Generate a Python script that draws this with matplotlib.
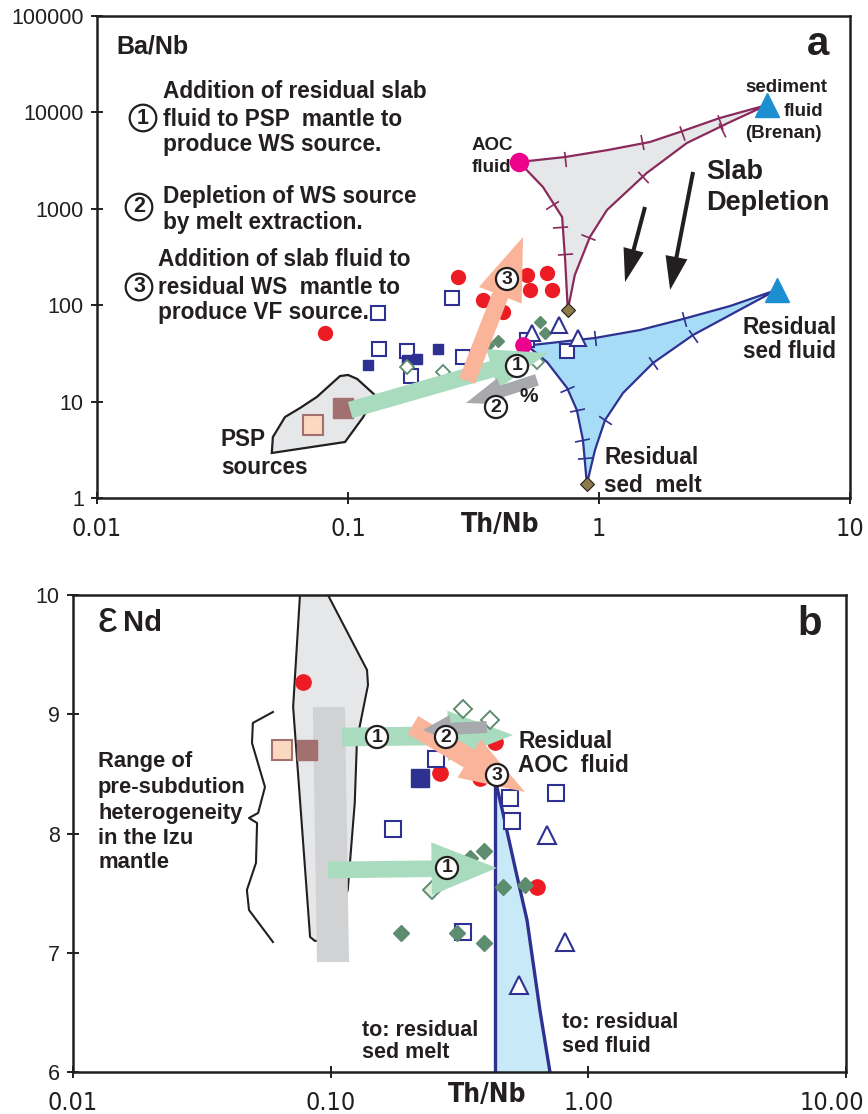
import numpy as np
import matplotlib
matplotlib.use('Agg')
import matplotlib.pyplot as plt
import matplotlib.transforms as mtrans
from matplotlib.patches import Polygon, FancyArrowPatch
from matplotlib.ticker import FixedLocator, FixedFormatter, NullLocator
from matplotlib import font_manager as fm

# ====================== DATA : panel a (Ba/Nb vs Th/Nb) ======================
a_red_x = [0.081, 0.274, 0.345, 0.415, 0.516, 0.531, 0.621, 0.650]
a_red_y = [51.5, 196, 113, 85, 206, 144, 216, 144]
a_opensq_x = [0.259, 0.132, 0.133, 0.172, 0.178, 0.287, 0.516, 0.747]
a_opensq_y = [119, 83, 35.1, 33.5, 18.4, 29.0, 43.6, 33.5]
a_navysq_x = [0.120, 0.172, 0.188, 0.229]
a_navysq_y = [24.0, 27.0, 27.7, 35.1]
a_dia_x = [0.397, 0.582, 0.610, 0.361]
a_dia_y = [42.5, 67.0, 51.5, 38.7]
a_opendia_x = [0.172, 0.239, 0.566]
a_opendia_y = [22.9, 20.3, 25.7]
a_tri_x = [0.541, 0.694, 0.824]
a_tri_y = [51.5, 62.3, 45.7]
a_psp_light = (0.0727, 5.72)
a_psp_dark = (0.0955, 8.58)
a_sed_fluid = (4.67, 11930)
a_res_sed_fluid = (5.1, 144)
a_aoc_fluid = (0.480, 3057)
a_res_aoc = (0.498, 38.7)
a_sed_diam_x = [0.751, 0.895]
a_sed_diam_y = [89.2, 1.40]

# mixing field AOC fluid - sediment fluid (grey, purple outline)
g_top_x = [0.480, 0.733, 1.086, 1.596, 2.10, 3.03, 4.67]
g_top_y = [3057, 3446, 4074, 4932, 6266, 8750, 11930]
g_right_x = [4.67, 3.33, 2.24, 1.55, 1.076, 0.920, 0.801, 0.751]
g_right_y = [11930, 7950, 4817, 2352, 972, 510, 206, 89.2]
g_left_x = [0.751, 0.733, 0.713, 0.598, 0.480]
g_left_y = [89.2, 294, 822, 1683, 3057]
g_tick_x = [0.733, 1.484, 2.14, 3.03, 3.09, 1.497, 0.904, 0.650, 0.700, 0.733]
g_tick_y = [3288, 4932, 6112, 7950, 6568, 2138, 510, 1095, 648, 340]

# residual slab field (blue)
r_top_x = [0.498, 0.964, 1.457, 2.16, 3.33, 5.1]
r_top_y = [37.7, 45.7, 55.3, 71.9, 98.1, 144]
r_right_x = [5.1, 2.37, 1.64, 1.247, 1.057, 0.964, 0.895]
r_right_y = [144, 49.1, 25.1, 12.3, 6.44, 3.15, 1.40]
r_left_x = [0.895, 0.863, 0.816, 0.747, 0.621, 0.531, 0.498]
r_left_y = [1.40, 4.0, 8.18, 13.8, 25.7, 36.0, 37.7]
r_tick_x = [0.964, 2.18, 2.37, 1.64, 1.057, 0.747, 0.816, 0.855, 0.879]
r_tick_y = [45.7, 71.9, 47.9, 25.1, 6.44, 13.5, 8.18, 4.0, 2.60]

# PSP source field
psp_x = [0.0497, 0.0502, 0.0561, 0.0644, 0.0752, 0.0929, 0.100, 0.1087, 0.128, 0.115, 0.0973]
psp_y = [2.93, 4.29, 6.92, 8.58, 11.2, 18.4, 18.9, 17.2, 11.7, 6.92, 3.81]

# arrows panel a: (x0, y0, x1, y1)
a_arrow1 = (0.102, 8.18, 0.627, 31.9)
a_arrow2 = (0.566, 16.8, 0.295, 9.67)
a_arrow3 = (0.298, 16.4, 0.498, 510)
a_slab1 = (1.525, 1044, 1.27, 174)
a_slab2 = (2.37, 2410, 1.92, 144)

# ====================== DATA : panel b (eNd vs Th/Nb) ======================
b_red_x = [0.0781, 0.2655, 0.434, 0.379, 0.631]
b_red_y = [9.270, 8.507, 8.767, 8.465, 7.551]
b_opensq_x = [0.257, 0.1746, 0.497, 0.505, 0.748, 0.326]
b_opensq_y = [8.625, 8.038, 8.298, 8.105, 8.340, 7.174]
b_navysq_x = [0.222]
b_navysq_y = [8.465]
b_dia_x = [0.394, 0.348, 0.467, 0.568, 0.1875, 0.309, 0.394]
b_dia_y = [7.853, 7.795, 7.551, 7.568, 7.166, 7.166, 7.082]
b_opendia_x = [0.326, 0.415]
b_opendia_y = [9.044, 8.952]
b_lightdia_x = [0.247]
b_lightdia_y = [7.526]
b_tri_x = [0.690, 0.811, 0.538]
b_tri_y = [7.987, 7.090, 6.730]
b_psp_light = (0.0647, 8.70)
b_psp_dark = (0.0809, 8.70)

b_field_x = [0.0760, 0.0976, 0.1384, 0.1396, 0.1265, 0.124, 0.1165, 0.0994, 0.0869, 0.0832, 0.0715]
b_field_y = [10.0, 10.0, 9.371, 9.245, 8.784, 8.256, 7.526, 7.107, 7.099, 7.132, 9.061]
b_rect_x = [0.0853, 0.1136, 0.1178, 0.0885]
b_rect_y = [9.061, 9.061, 6.922, 6.922]
brace_x = [0.0597, 0.0499, 0.0495, 0.0556, 0.0523, 0.0482, 0.0518, 0.0513, 0.0473, 0.0482, 0.0597]
brace_y = [9.019, 8.927, 8.759, 8.390, 8.172, 8.130, 8.088, 7.753, 7.526, 7.358, 7.090]
bb_left_x = [0.434, 0.434]
bb_left_y = [8.390, 6.0]
bb_right_x = [0.4416, 0.4663, 0.519, 0.578, 0.6486, 0.7096]
bb_right_y = [8.390, 8.172, 7.719, 7.275, 6.520, 6.0]

b_arrow1u = (0.1107, 8.809, 0.510, 8.826)
b_arrow1l = (0.0976, 7.694, 0.4416, 7.711)
b_arrow3 = (0.2084, 8.910, 0.568, 8.348)
b_arrow2 = (0.404, 8.893, 0.228, 8.868)

a_xticks = [0.01, 0.1, 1, 10]
a_xlabels = ['0.01', '0.1', '1', '10']
a_yticks = [1, 10, 100, 1000, 10000, 100000]
a_ylabels = ['1', '10', '100', '1000', '10000', '100000']
b_xticks = [0.01, 0.1, 1, 10]
b_xlabels = ['0.01', '0.10', '1.00', '10.00']
b_yticks = [6, 7, 8, 9, 10]
b_ylabels = ['6', '7', '8', '9', '10']

# ====================== STYLE ======================
names = {f.name for f in fm.fontManager.ttflist}
MAIN = 'Liberation Sans' if 'Liberation Sans' in names else 'DejaVu Sans'
plt.rcParams['font.family'] = [MAIN, 'DejaVu Sans']

# look for a condensed / narrow sans face (regular and bold)
narrow_reg, narrow_bold = None, None
for f in fm.fontManager.ttflist:
    fn = f.fname.lower()
    if ('narrow' in fn or 'condensed' in fn) and 'sans' in fn and 'mono' not in fn \
            and 'italic' not in fn and 'oblique' not in fn:
        if 'bold' in fn or f.weight in ('bold', 700):
            if narrow_bold is None or 'liberation' in fn:
                narrow_bold = f.fname
        else:
            if narrow_reg is None or 'liberation' in fn:
                narrow_reg = f.fname

if narrow_reg:
    FP_TICK = fm.FontProperties(fname=narrow_reg, size=18)
else:
    FP_TICK = fm.FontProperties(family=MAIN, size=15.5, stretch='condensed')
if narrow_bold:
    FP_LAB = fm.FontProperties(fname=narrow_bold, size=19)
else:
    FP_LAB = fm.FontProperties(family=MAIN, size=17, weight='bold')

K = '#231f20'
RED = '#ed1c24'
NAVY = '#2e3192'
GREEN = '#5e8c6e'
MAG = '#ec008c'
SKY = '#1b8fd2'
BROWN = '#8c7a48'
PURP = '#8a2a5c'
GFILL = '#e6e7e8'
BFILL_A = '#a6dcf5'
BFILL_B = '#c8eaf8'
GARROW = '#a9dbbf'
PARROW = '#f9b49a'
GRARROW = '#a7a9ac'
PSPL = '#fbd9c0'
PSPD = '#a37070'

fig = plt.figure(figsize=(8.68, 11.14), dpi=100)
W, H = 868.0, 1114.0
ax1 = fig.add_axes([97 / W, 1 - 498 / H, (850 - 97) / W, (498 - 16) / H])
ax2 = fig.add_axes([73 / W, 1 - 1072 / H, (846 - 73) / W, (1072 - 595) / H])


def style_axes(ax, xt, xl, yt, yl, logy):
    ax.set_xscale('log')
    if logy:
        ax.set_yscale('log')
    ax.xaxis.set_major_locator(FixedLocator(xt))
    ax.xaxis.set_major_formatter(FixedFormatter(xl))
    ax.yaxis.set_major_locator(FixedLocator(yt))
    ax.yaxis.set_major_formatter(FixedFormatter(yl))
    ax.xaxis.set_minor_locator(NullLocator())
    ax.yaxis.set_minor_locator(NullLocator())
    for s in ax.spines.values():
        s.set_color(K)
        s.set_linewidth(1.8)
    ax.tick_params(which='major', direction='inout', length=9, width=1.4, color=K)
    ax.tick_params(axis='x', pad=9)
    ax.tick_params(axis='y', pad=5)
    for t in ax.get_xticklabels():
        t.set_fontproperties(FP_TICK)
        t.set_color(K)
    for t in ax.get_yticklabels():
        t.set_fontfamily(MAIN)
        t.set_fontsize(15.5)
        t.set_color(K)


style_axes(ax1, a_xticks, a_xlabels, a_yticks, a_ylabels, True)
ax1.set_xlim(0.01, 10)
ax1.set_ylim(1, 100000)
style_axes(ax2, b_xticks, b_xlabels, b_yticks, b_ylabels, False)
ax2.set_xlim(0.01, 10)
ax2.set_ylim(6, 10)
# keep the last panel-b x label inside the figure
shift = mtrans.ScaledTranslation(-14 / 100.0, 0, fig.dpi_scale_trans)
for tk in ax2.xaxis.get_major_ticks()[-1:]:
    tk.label1.set_transform(tk.label1.get_transform() + shift)


def arrow(ax, spec, color, tw, hw, hl, z):
    x0, y0, x1, y1 = spec
    p = FancyArrowPatch((x0, y0), (x1, y1),
                        arrowstyle=f'simple,head_length={hl},head_width={hw},tail_width={tw}',
                        mutation_scale=1, color=color, lw=0, shrinkA=0, shrinkB=0, zorder=z)
    ax.add_patch(p)


def circ(ax, x, y, s, fs=14, fc='white', z=8):
    ax.text(x, y, s, transform=ax.transAxes, ha='center', va='center', fontsize=fs,
            fontweight='bold', color=K, zorder=z,
            bbox=dict(boxstyle='circle,pad=0.13', fc=fc, ec=K, lw=1.6))


def txt(ax, x, y, s, fs=16.3, ha='left', weight='bold', **kw):
    ax.text(x, y, s, transform=ax.transAxes, ha=ha, va='center', fontsize=fs,
            fontweight=weight, color=K, **kw)


def curve_ticks(ax, cx, cy, tx, ty, color, ms=11, mew=1.2):
    P = ax.transData.transform(np.column_stack([cx, cy]))
    T = ax.transData.transform(np.column_stack([tx, ty]))
    for px, py in T:
        best, ang = 1e18, 0.0
        q = np.array([px, py])
        for i in range(len(P) - 1):
            a, b = P[i], P[i + 1]
            v = b - a
            L2 = v @ v
            if L2 == 0:
                continue
            t = np.clip(((q - a) @ v) / L2, 0, 1)
            d = np.hypot(*(a + t * v - q))
            if d < best:
                best, ang = d, np.degrees(np.arctan2(v[1], v[0]))
        inv = ax.transData.inverted().transform((px, py))
        ax.plot([inv[0]], [inv[1]], ls='none', marker=(2, 0, ang), ms=ms,
                mec=color, mew=mew, zorder=3)


# ====================== PANEL a ======================
ax = ax1
gx = g_top_x + g_right_x[1:] + g_left_x[1:-1]
gy = g_top_y + g_right_y[1:] + g_left_y[1:-1]
ax.add_patch(Polygon(np.column_stack([gx, gy]), closed=True, fc=GFILL, ec=PURP, lw=1.6, zorder=1))
curve_ticks(ax, gx + [gx[0]], gy + [gy[0]], g_tick_x, g_tick_y, PURP)

rx = r_top_x + r_right_x[1:] + r_left_x[1:-1]
ry = r_top_y + r_right_y[1:] + r_left_y[1:-1]
ax.add_patch(Polygon(np.column_stack([rx, ry]), closed=True, fc=BFILL_A, ec=NAVY, lw=1.6, zorder=1))
curve_ticks(ax, rx + [rx[0]], ry + [ry[0]], r_tick_x, r_tick_y, NAVY)

ax.add_patch(Polygon(np.column_stack([psp_x, psp_y]), closed=True, fc=GFILL, ec=K, lw=1.6, zorder=1))

ax.plot(a_red_x, a_red_y, 'o', ms=10, mfc=RED, mec=RED, zorder=4)
ax.plot(a_opensq_x, a_opensq_y, 's', ms=10.5, mfc='white', mec=NAVY, mew=1.5, zorder=4)
ax.plot(a_navysq_x, a_navysq_y, 's', ms=7, mfc=NAVY, mec=NAVY, zorder=4)
ax.plot(a_dia_x, a_dia_y, 'D', ms=6, mfc=GREEN, mec=GREEN, zorder=4)
ax.plot(a_opendia_x, a_opendia_y, 'D', ms=7, mfc='white', mec=GREEN, mew=1.3, zorder=4)
ax.plot(a_tri_x, a_tri_y, '^', ms=12, mfc='white', mec=NAVY, mew=1.5, zorder=4)
ax.plot(*a_psp_light, 's', ms=14, mfc=PSPL, mec=PSPD, mew=1.5, zorder=4)
ax.plot(*a_psp_dark, 's', ms=15, mfc=PSPD, mec=PSPD, zorder=4)
ax.plot(*a_sed_fluid, '^', ms=17, mfc=SKY, mec=SKY, zorder=4)
ax.plot(*a_res_sed_fluid, '^', ms=17, mfc=SKY, mec=SKY, zorder=4)
ax.plot(*a_aoc_fluid, 'o', ms=13, mfc=MAG, mec=MAG, zorder=4)
ax.plot(*a_res_aoc, 'o', ms=11, mfc=MAG, mec=MAG, zorder=5)
ax.plot(a_sed_diam_x, a_sed_diam_y, 'D', ms=7.5, mfc=BROWN, mec=K, mew=0.8, zorder=5)

arrow(ax, a_arrow1, GARROW, 12, 30, 42, 6)
arrow(ax, a_arrow2, GRARROW, 8.6, 20, 27, 6.5)
arrow(ax, a_arrow3, PARROW, 12, 33, 45, 7)
arrow(ax, a_slab1, K, 2.9, 15, 24, 6)
arrow(ax, a_slab2, K, 2.9, 16, 24, 6)

X = lambda px: (px - 97) / 753.0
Y = lambda py: (498 - py) / 482.0
txt(ax, X(116), Y(46), 'Ba/Nb', fs=18)
txt(ax, X(818), Y(44), 'a', fs=29, ha='center')
for s, py in zip(['Addition of residual slab', 'fluid to PSP  mantle to', 'produce WS source.'], [92, 119, 144]):
    txt(ax, X(163), Y(py), s)
for s, py in zip(['Depletion of WS source', 'by melt extraction.'], [197, 223]):
    txt(ax, X(163), Y(py), s)
for s, py in zip(['Addition of slab fluid to', 'residual WS  mantle to', 'produce VF source.'], [260, 287, 312]):
    txt(ax, X(158), Y(py), s)
circ(ax, X(143), Y(118), '1', fs=15.5, fc='none')
circ(ax, X(139), Y(207), '2', fs=15.5, fc='none')
circ(ax, X(139), Y(287), '3', fs=15.5, fc='none')
txt(ax, X(472), Y(146), 'AOC', fs=13.5)
txt(ax, X(472), Y(168), 'fluid', fs=13.5)
txt(ax, X(745), Y(87), 'sediment', fs=13.5)
txt(ax, X(784), Y(111), 'fluid', fs=13.5)
txt(ax, X(745), Y(133), '(Brenan)', fs=13.5)
txt(ax, X(706), Y(172), 'Slab', fs=19.5)
txt(ax, X(706), Y(203), 'Depletion', fs=19.5)
txt(ax, X(743), Y(328), 'Residual', fs=16.3)
txt(ax, X(743), Y(351), 'sed fluid', fs=16.3)
txt(ax, X(604), Y(458), 'Residual', fs=16.3)
txt(ax, X(604), Y(485), 'sed  melt', fs=16.3)
txt(ax, X(221), Y(440), 'PSP', fs=16.3)
txt(ax, X(221), Y(467), 'sources', fs=16.3)
circ(ax, X(517), Y(366), '1')
circ(ax, X(496), Y(407), '2')
circ(ax, X(507), Y(279), '3')
txt(ax, X(519), Y(396), '%', fs=15, zorder=9)
ax.text(X(500), Y(525), 'Th/Nb', transform=ax.transAxes, ha='center', va='center',
        fontproperties=FP_LAB, color=K)

# ====================== PANEL b ======================
ax = ax2
ax.add_patch(Polygon(np.column_stack([b_field_x, b_field_y]), closed=True, fc=GFILL, ec=K, lw=1.5, zorder=1))
ax.add_patch(Polygon(np.column_stack([b_rect_x, b_rect_y]), closed=True, fc='#d1d2d4', ec='none', zorder=1.5))
ax.plot(brace_x, brace_y, color=K, lw=1.5, zorder=2)
bfx = bb_left_x[::-1] + bb_right_x
bfy = bb_left_y[::-1] + bb_right_y
ax.add_patch(Polygon(np.column_stack([bfx, bfy]), closed=True, fc=BFILL_B, ec='none', zorder=1))
ax.plot(bb_left_x, bb_left_y, color=NAVY, lw=2.4, zorder=2)
ax.plot(bb_right_x, bb_right_y, color=NAVY, lw=2.4, zorder=2)

ax.plot(*b_psp_light, 's', ms=14, mfc=PSPL, mec=PSPD, mew=1.5, zorder=4)
ax.plot(*b_psp_dark, 's', ms=14, mfc=PSPD, mec=PSPD, zorder=4)
ax.plot(b_red_x, b_red_y, 'o', ms=11, mfc=RED, mec=RED, zorder=4)
ax.plot(b_opensq_x, b_opensq_y, 's', ms=11, mfc='white', mec=NAVY, mew=1.5, zorder=4)
ax.plot(b_navysq_x, b_navysq_y, 's', ms=13, mfc=NAVY, mec=NAVY, zorder=4)
ax.plot(b_dia_x, b_dia_y, 'D', ms=8.5, mfc=GREEN, mec=GREEN, zorder=4)
ax.plot(b_opendia_x, b_opendia_y, 'D', ms=9.5, mfc='white', mec=GREEN, mew=1.4, zorder=6.2)
ax.plot(b_lightdia_x, b_lightdia_y, 'D', ms=9.5, mfc='#e3f0dc', mec=GREEN, mew=1.4, zorder=4)
ax.plot(b_tri_x, b_tri_y, '^', ms=13, mfc='white', mec=NAVY, mew=1.5, zorder=4)

arrow(ax, b_arrow1u, GARROW, 13.5, 36, 47, 6)
arrow(ax, b_arrow1l, GARROW, 12, 38, 47, 6)
arrow(ax, b_arrow3, PARROW, 15, 32, 47, 6.5)
arrow(ax, b_arrow2, GRARROW, 8.6, 20, 20, 7)

X = lambda px: (px - 73) / 773.0
Y = lambda py: (1072 - py) / 477.0
ax.text(X(107), Y(621), '\u03b5', transform=ax.transAxes, ha='center', va='center',
        fontsize=32, color=K)
txt(ax, X(123), Y(623), 'Nd', fs=21)
txt(ax, X(810), Y(624), 'b', fs=29, ha='center')
for s, py in zip(['Range of', 'pre-subdution', 'heterogeneity', 'in the Izu', 'mantle'],
                 [762, 788, 813, 839, 863]):
    txt(ax, X(98), Y(py), s, fs=15.8)
txt(ax, X(518), Y(742), 'Residual', fs=16.3)
txt(ax, X(518), Y(766), 'AOC  fluid', fs=16.3)
txt(ax, X(362), Y(1030), 'to: residual', fs=15.5)
txt(ax, X(362), Y(1053), 'sed melt', fs=15.5)
txt(ax, X(562), Y(1022), 'to: residual', fs=15.5)
txt(ax, X(562), Y(1047), 'sed fluid', fs=15.5)
circ(ax, X(377), Y(737), '1')
circ(ax, X(446), Y(737), '2')
circ(ax, X(497), Y(775), '3')
circ(ax, X(447), Y(868), '1')
ax.text(X(487), Y(1095), 'Th/Nb', transform=ax.transAxes, ha='center', va='center',
        fontproperties=FP_LAB, color=K)

fig.savefig('out.png', dpi=100)
